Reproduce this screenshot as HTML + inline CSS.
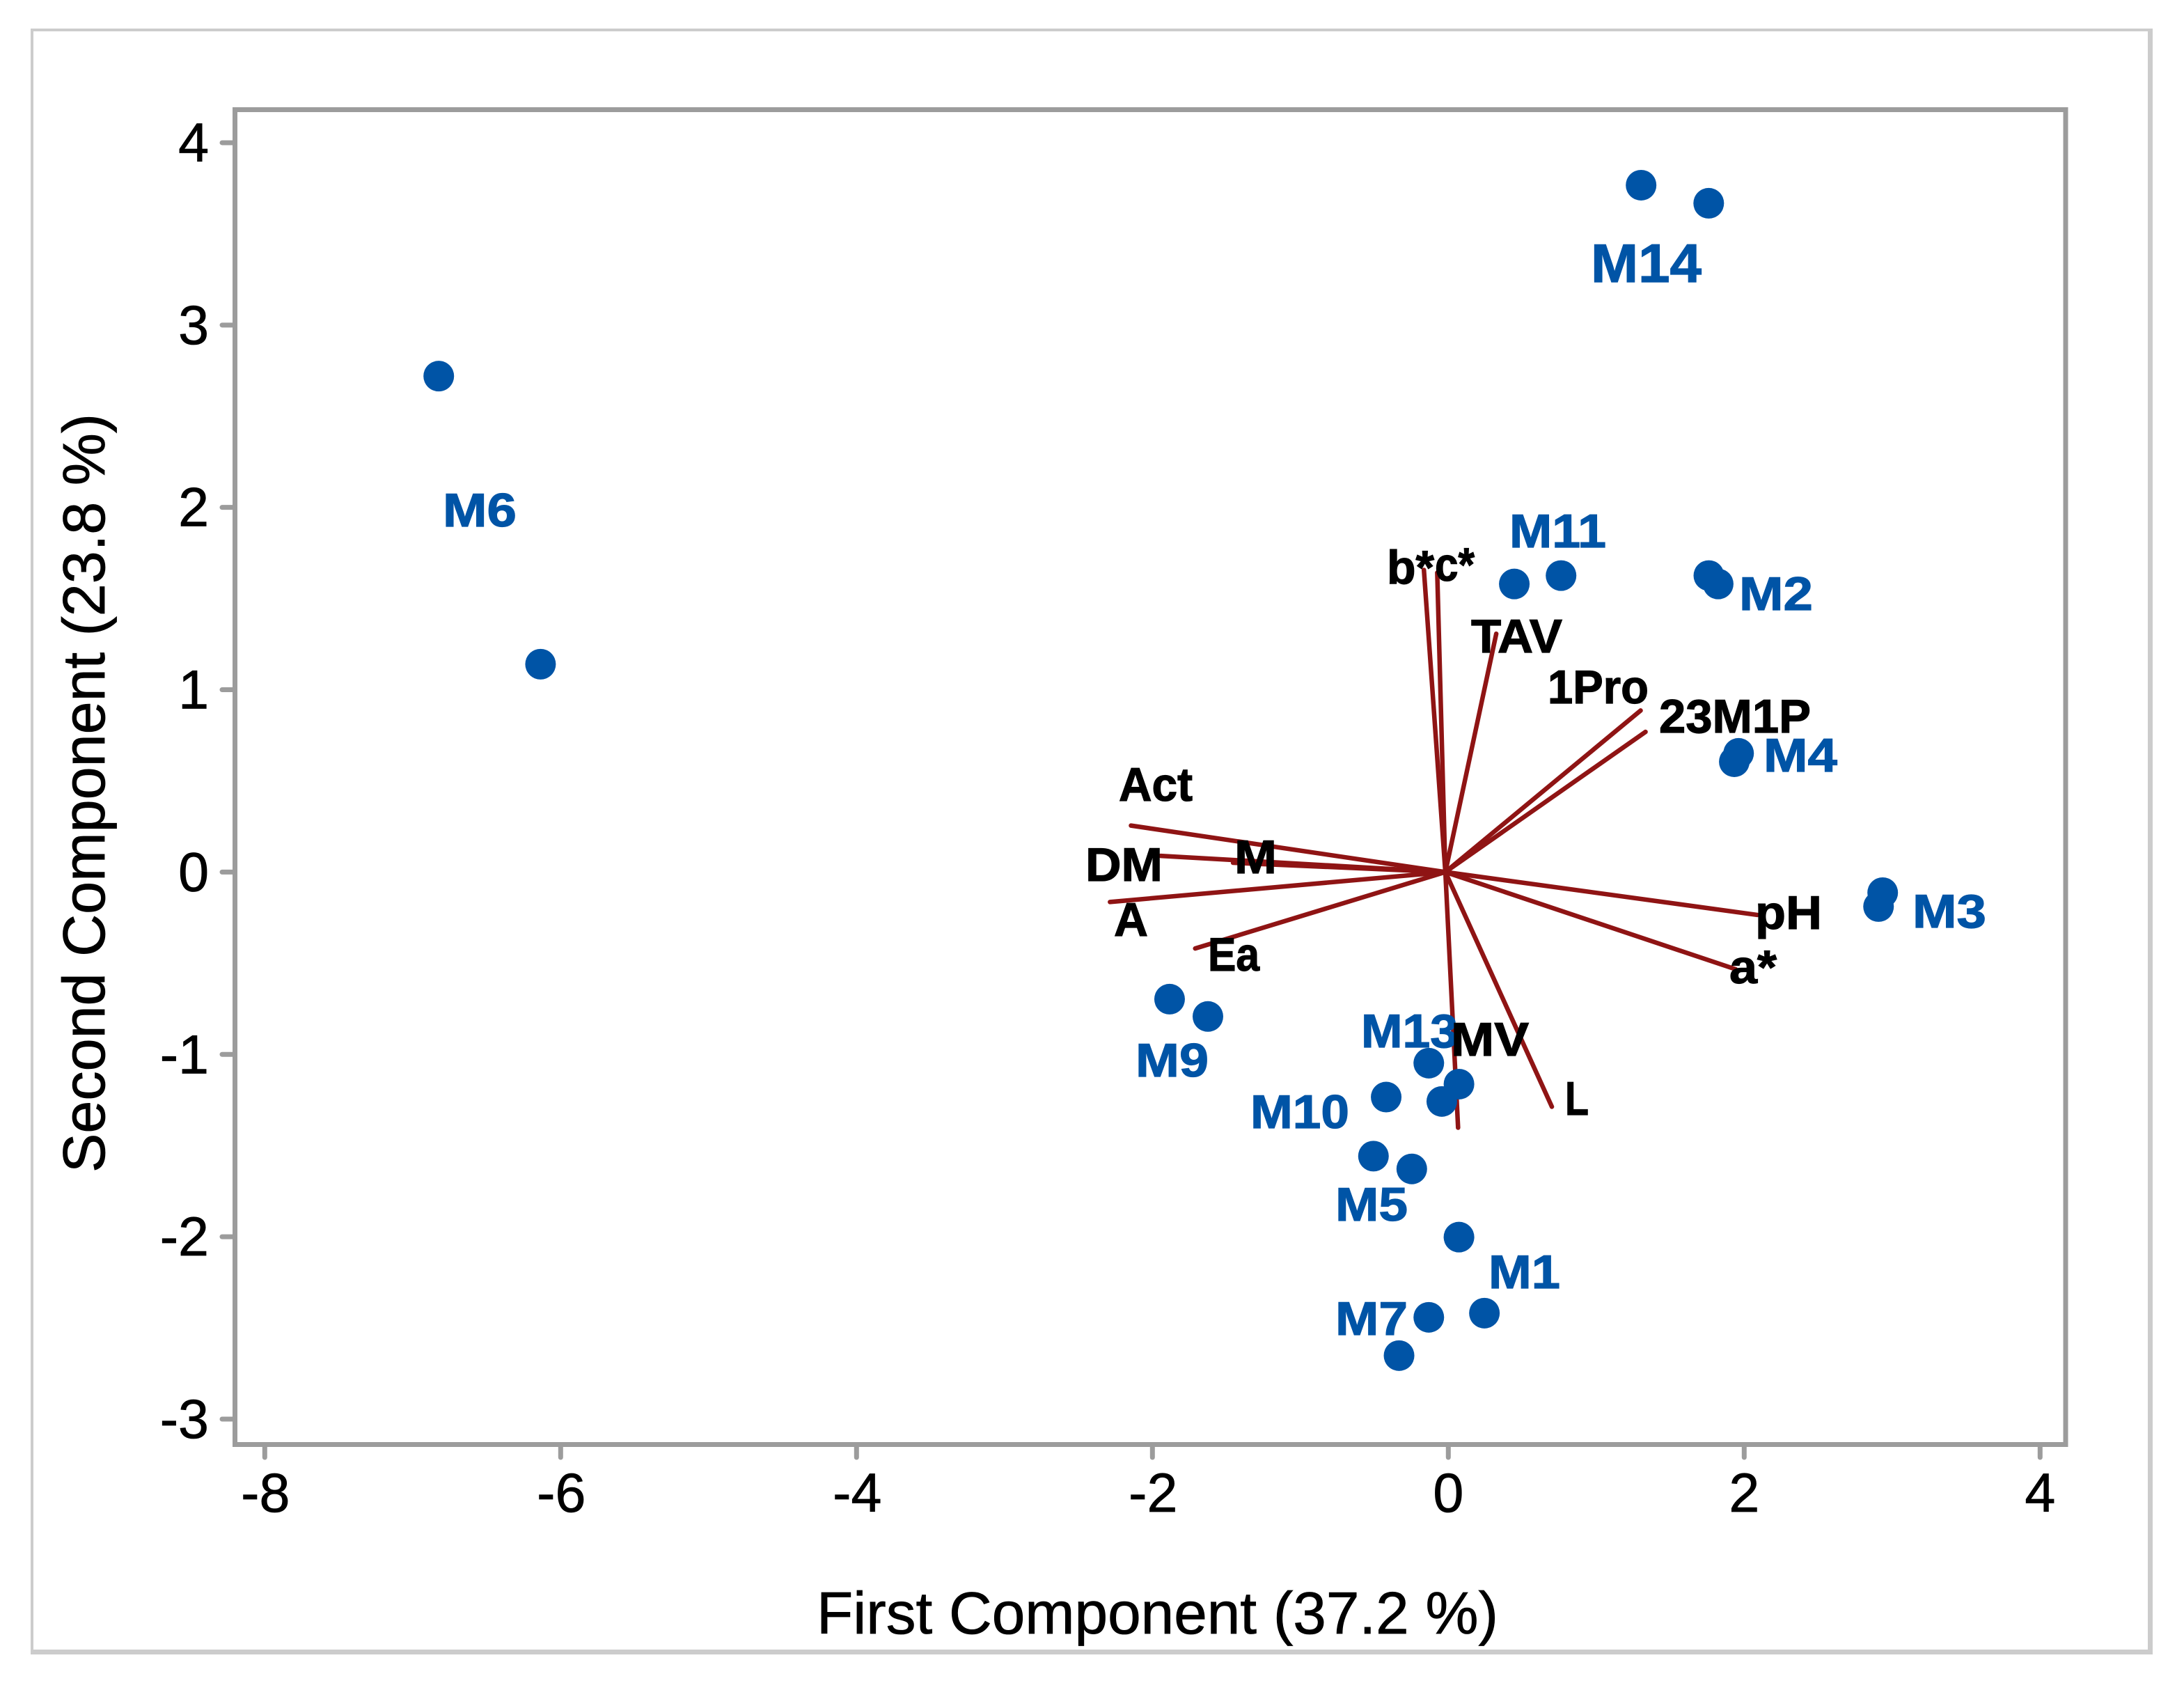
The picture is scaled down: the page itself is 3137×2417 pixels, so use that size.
<!DOCTYPE html>
<html lang="en">
<head>
<meta charset="utf-8">
<title>PCA biplot</title>
<style>
  html, body { margin: 0; padding: 0; background: #ffffff; }
  svg { display: block; }
  text { font-family: "Liberation Sans", sans-serif; }
  .tick-label { font-size: 79px; fill: #000000; stroke: #000000; stroke-width: 0.8px; }
  .axis-title { font-size: 85px; fill: #000000; stroke: #000000; stroke-width: 0.8px; }
  .blue { font-size: 68px; font-weight: bold; fill: #0054a6; stroke: #0054a6; stroke-width: 1.2px; }
  .black { font-size: 68px; font-weight: bold; fill: #000000; stroke: #000000; stroke-width: 1.2px; }
</style>
</head>
<body>
<svg id="chart" xmlns="http://www.w3.org/2000/svg" width="3137" height="2417" viewBox="0 0 3137 2417">
  <rect x="0" y="0" width="3137" height="2417" fill="#ffffff"/>
  <g stroke="#cccccc" fill="none">
    <line x1="46" y1="41" x2="46" y2="2376" stroke-width="4"/>
    <line x1="44" y1="43" x2="3092" y2="43" stroke-width="4"/>
    <line x1="3088.5" y1="41" x2="3088.5" y2="2376" stroke-width="7"/>
    <line x1="44" y1="2372.5" x2="3092" y2="2372.5" stroke-width="7"/>
  </g>
  <rect x="337.5" y="157.5" width="2629.5" height="1917" fill="none" stroke="#9c9c9c" stroke-width="7"/>
  <g id="x-ticks"></g>
  <g id="y-ticks"></g>
  <g id="loadings"></g>
  <g id="scores"></g>

  <g>
    <text class="blue" x="2285" y="405" textLength="159" lengthAdjust="spacingAndGlyphs" style="font-size:78px">M14</text>
    <text class="blue" x="636" y="756" textLength="106" lengthAdjust="spacingAndGlyphs">M6</text>
    <text class="blue" x="2168" y="786" textLength="139" lengthAdjust="spacingAndGlyphs">M11</text>
    <text class="blue" x="2498" y="876" textLength="106" lengthAdjust="spacingAndGlyphs">M2</text>
    <text class="blue" x="2533" y="1108" textLength="106" lengthAdjust="spacingAndGlyphs">M4</text>
    <text class="blue" x="2747" y="1332" textLength="106" lengthAdjust="spacingAndGlyphs">M3</text>
    <text class="blue" x="1631" y="1546" textLength="105" lengthAdjust="spacingAndGlyphs">M9</text>
    <text class="blue" x="1955" y="1504" textLength="139" lengthAdjust="spacingAndGlyphs">M13</text>
    <text class="blue" x="1796" y="1620" textLength="142" lengthAdjust="spacingAndGlyphs">M10</text>
    <text class="blue" x="1918" y="1753" textLength="104" lengthAdjust="spacingAndGlyphs">M5</text>
    <text class="blue" x="2138" y="1850" textLength="103" lengthAdjust="spacingAndGlyphs">M1</text>
    <text class="blue" x="1918" y="1917" textLength="104" lengthAdjust="spacingAndGlyphs">M7</text>
  </g>

  <g>
    <text class="black" x="1992" y="838" textLength="68" lengthAdjust="spacingAndGlyphs">b*</text>
    <text class="black" x="2061" y="834" textLength="57" lengthAdjust="spacingAndGlyphs">c*</text>
    <text class="black" x="2113" y="937" textLength="131" lengthAdjust="spacingAndGlyphs">TAV</text>
    <text class="black" x="2223" y="1010" textLength="145" lengthAdjust="spacingAndGlyphs">1Pro</text>
    <text class="black" x="2383" y="1052" textLength="218" lengthAdjust="spacingAndGlyphs">23M1P</text>
    <text class="black" x="1607" y="1150" textLength="106" lengthAdjust="spacingAndGlyphs">Act</text>
    <text class="black" x="1559" y="1265" textLength="111" lengthAdjust="spacingAndGlyphs">DM</text>
    <text class="black" x="1773" y="1254" textLength="61" lengthAdjust="spacingAndGlyphs">M</text>
    <text class="black" x="1600" y="1344" textLength="49" lengthAdjust="spacingAndGlyphs">A</text>
    <text class="black" x="1735" y="1394" textLength="74" lengthAdjust="spacingAndGlyphs">Ea</text>
    <text class="black" x="2521" y="1334" textLength="96" lengthAdjust="spacingAndGlyphs">pH</text>
    <text class="black" x="2484" y="1412" textLength="68" lengthAdjust="spacingAndGlyphs">a*</text>
    <text class="black" x="2084" y="1516" textLength="112" lengthAdjust="spacingAndGlyphs">MV</text>
    <text class="black" x="2248" y="1601" textLength="34" lengthAdjust="spacingAndGlyphs">L</text>
  </g>

  <text class="axis-title" x="1173" y="2346" textLength="979" lengthAdjust="spacingAndGlyphs">First Component (37.2 %)</text>
  <text class="axis-title" transform="translate(150 1684) rotate(-90)" x="0" y="0" textLength="1090" lengthAdjust="spacingAndGlyphs">Second Component (23.8 %)</text>
</svg>

<script>
const xTickValues = [-8, -6, -4, -2, 0, 2, 4];
const yTickValues = [-3, -2, -1, 0, 1, 2, 3, 4];

const scoreNames = ["M14a","M14b","M6a","M6b","M11a","M11b","M2a","M2b","M4a","M4b","M3a","M3b","M9a","M9b","M13a","M13b","M10a","M10b","M5a","M5b","M1a","M1b","M7a","M7b"];
const scoreX = [1.303, 1.760, -6.824, -6.136, 0.446, 0.762, 1.761, 1.824, 1.962, 1.933, 2.936, 2.908, -1.884, -1.625, -0.132, 0.072, -0.420, -0.044, -0.506, -0.247, 0.072, 0.244, -0.132, -0.333];
const scoreY = [3.767, 3.668, 2.720, 1.140, 1.580, 1.626, 1.626, 1.580, 0.651, 0.605, -0.113, -0.189, -0.697, -0.792, -1.048, -1.163, -1.234, -1.258, -1.558, -1.628, -2.002, -2.419, -2.442, -2.652];

const loadingNames = ["b-star","c-star","TAV","1Pro","23M1P","Act","DM","M","A","Ea","pH","a-star","L","MV"];
const loadingX = [-0.165, -0.075, 0.324, 1.300, 1.333, -2.145, -1.945, -1.455, -2.287, -1.711, 2.088, 1.942, 0.700, 0.066];
const loadingY = [1.657, 1.642, 1.307, 0.886, 0.769, 0.255, 0.089, 0.051, -0.164, -0.419, -0.235, -0.533, -1.287, -1.402];
const originX = -0.02;
const originY = 0;

const NS = "http://www.w3.org/2000/svg";
function xScale(v) { return 2080.3 + 212.5 * v; }
function yScale(v) { return 1252.4 - 261.86 * v; }
function make(tag, props) {
  const el = document.createElementNS(NS, tag);
  for (const k in props) el.setAttribute(k, props[k]);
  return el;
}

const xG = document.getElementById("x-ticks");
xTickValues.forEach(function (v) {
  const px = xScale(v);
  const t = make("line", { x1: px, y1: 2078, x2: px, y2: 2093, stroke: "#9c9c9c", "stroke-width": 7, "stroke-linecap": "round" });
  
  
  xG.appendChild(t);
  const l = make("text", { x: px + (v < 0 ? 1 : 0), y: 2171, "text-anchor": "middle", class: "tick-label" });
  
  
  l.textContent = String(v);
  xG.appendChild(l);
});

const yG = document.getElementById("y-ticks");
yTickValues.forEach(function (v) {
  const py = yScale(v);
  const t = make("line", { x1: 334, y1: py, x2: 319, y2: py, stroke: "#9c9c9c", "stroke-width": 7, "stroke-linecap": "round" });
  
  
  yG.appendChild(t);
  const l = make("text", { x: 300, y: py + 27, "text-anchor": "end", class: "tick-label" });
  
  
  l.textContent = String(v);
  yG.appendChild(l);
});

const loadG = document.getElementById("loadings");
loadingNames.forEach(function (name, i) {
  const ln = make("line", { x1: xScale(originX), y1: yScale(originY), x2: xScale(loadingX[i]), y2: yScale(loadingY[i]), stroke: "#8f1414", "stroke-width": 6.5, "stroke-linecap": "round" });
  
  
  loadG.appendChild(ln);
});

const scoreG = document.getElementById("scores");
scoreNames.forEach(function (name, i) {
  const c = make("circle", { cx: xScale(scoreX[i]), cy: yScale(scoreY[i]), r: 22, fill: "#0054a6" });
  
  
  scoreG.appendChild(c);
});
</script>
</body>
</html>
